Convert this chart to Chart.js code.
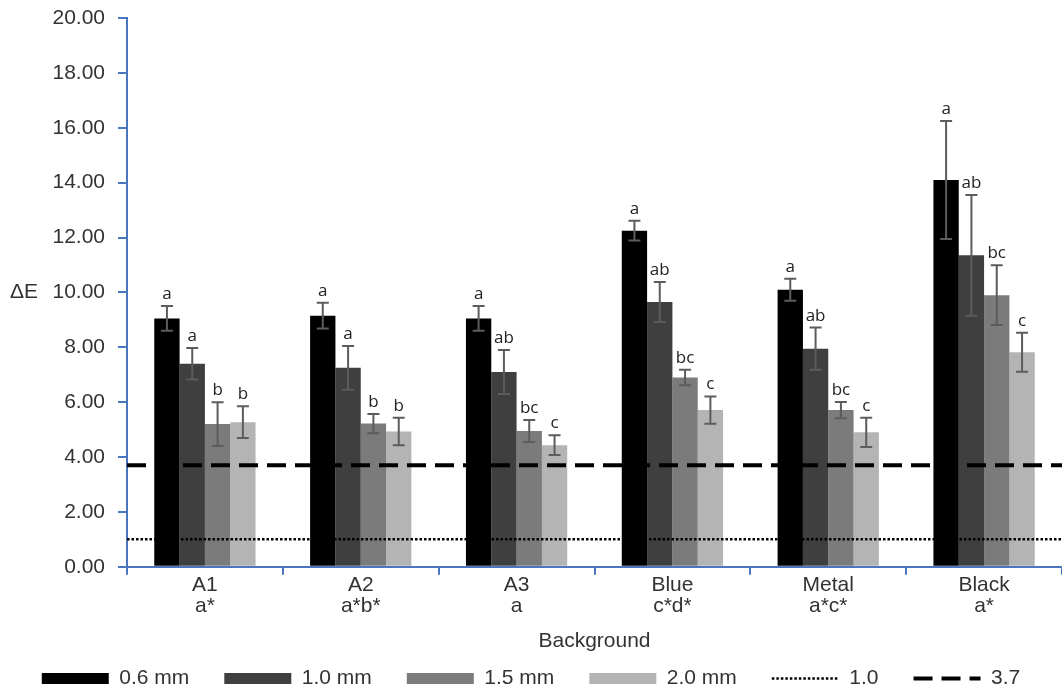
<!DOCTYPE html>
<html lang="en">
<head>
<meta charset="utf-8"/>
<title>ΔE by background</title>
<script src="https://cdn.jsdelivr.net/npm/chart.js"></script>
<style>
  html, body { margin: 0; padding: 0; background: #fff; }
  .wrap { width: 1062px; height: 693px; }
</style>
</head>
<body>
<div class="wrap"><canvas id="deChart" width="1062" height="693"></canvas></div>
<script>
  // categories (background + group letters) and thickness series
  const categories = [['A1', 'a*'], ['A2', 'a*b*'], ['A3', 'a'], ['Blue', 'c*d*'], ['Metal', 'a*c*'], ['Black', 'a*']];
  const seriesNames = ['0.6 mm', '1.0 mm', '1.5 mm', '2.0 mm'];

  const mean06 = [9.05, 9.15, 9.05, 12.25, 10.10, 14.10];
  const mean10 = [7.40, 7.25, 7.10, 9.65, 7.95, 11.35];
  const mean15 = [5.20, 5.22, 4.95, 6.90, 5.71, 9.90];
  const mean20 = [5.27, 4.93, 4.43, 5.71, 4.90, 7.82];

  const err06 = [0.45, 0.47, 0.45, 0.36, 0.40, 2.15];
  const err10 = [0.57, 0.80, 0.80, 0.73, 0.77, 2.20];
  const err15 = [0.80, 0.35, 0.40, 0.28, 0.30, 1.09];
  const err20 = [0.58, 0.50, 0.36, 0.50, 0.53, 0.71];

  const letters06 = ['a', 'a', 'a', 'a', 'a', 'a'];
  const letters10 = ['a', 'a', 'ab', 'ab', 'ab', 'ab'];
  const letters15 = ['b', 'b', 'bc', 'bc', 'bc', 'bc'];
  const letters20 = ['b', 'b', 'c', 'c', 'c', 'c'];

  const barColors = ['#000000', '#3f3f3f', '#7b7b7b', '#b4b4b4'];

  // reference thresholds (ΔE = 1.0 dotted, 3.7 dashed)
  const refNames = ['1.0', '3.7'];
  const refValues = [1.0, 3.7];

  const yTicks = { min: 0, max: 20, step: 2 };

  const seriesMeans = [mean06, mean10, mean15, mean20];
  const seriesErrors = [err06, err10, err15, err20];
  const seriesLetters = [letters06, letters10, letters15, letters20];
  const refStyles = [
    { dash: [2.5, 2], width: 2.5 },
    { dash: [19, 9], width: 4 }
  ];

  const FONT = '"Liberation Sans", Arial, sans-serif';
  const TEXT = '#333333';
  const AXIS = '#4a76c0';

  // threshold lines, then error bars + letters on top
  const overlays = {
    id: 'overlays',
    afterDatasetsDraw(chart) {
      const ctx = chart.ctx;
      const y = chart.scales.y;
      const area = chart.chartArea;
      ctx.save();
      refValues.forEach((v, k) => {
        const py = y.getPixelForValue(v);
        ctx.beginPath();
        ctx.setLineDash(refStyles[k].dash);
        ctx.lineWidth = refStyles[k].width;
        ctx.strokeStyle = '#000';
        ctx.moveTo(area.left, py);
        ctx.lineTo(area.right, py);
        ctx.stroke();
      });
      ctx.setLineDash([]);
      ctx.strokeStyle = '#5c5c5c';
      ctx.lineWidth = 2;
      ctx.fillStyle = '#222';
      ctx.font = '17px "Open Sans", sans-serif';
      ctx.textAlign = 'center';
      ctx.textBaseline = 'alphabetic';
      seriesMeans.forEach((means, i) => {
        chart.getDatasetMeta(i).data.forEach((bar, j) => {
          const top = y.getPixelForValue(means[j] + seriesErrors[i][j]);
          const bottom = y.getPixelForValue(means[j] - seriesErrors[i][j]);
          ctx.beginPath();
          ctx.moveTo(bar.x, top); ctx.lineTo(bar.x, bottom);
          ctx.moveTo(bar.x - 6, top); ctx.lineTo(bar.x + 6, top);
          ctx.moveTo(bar.x - 6, bottom); ctx.lineTo(bar.x + 6, bottom);
          ctx.stroke();
          ctx.fillText(seriesLetters[i][j], bar.x, top - 7);
        });
      });
      ctx.restore();
    }
  };

  // horizontal "ΔE" axis label
  const yLabel = {
    id: 'yLabel',
    afterDraw(chart) {
      const ctx = chart.ctx;
      const y = chart.scales.y;
      ctx.save();
      ctx.font = '21px ' + FONT;
      ctx.fillStyle = TEXT;
      ctx.textAlign = 'left';
      ctx.textBaseline = 'middle';
      ctx.fillText('ΔE', 10, (y.top + y.bottom) / 2);
      ctx.restore();
    }
  };

  const datasets = seriesNames.map((name, i) => ({
    label: name,
    data: seriesMeans[i],
    backgroundColor: barColors[i],
    borderWidth: 0,
    categoryPercentage: 0.65,
    barPercentage: 1.0
  }));

  new Chart(document.getElementById('deChart'), {
    type: 'bar',
    data: { labels: categories, datasets: datasets },
    options: {
      responsive: false,
      animation: false,
      layout: { padding: { top: 18, right: 0, bottom: -6, left: 0 } },
      scales: {
        x: {
          grid: { drawOnChartArea: false, color: AXIS, lineWidth: 2, tickLength: 8 },
          border: { color: AXIS, width: 2 },
          ticks: { color: TEXT, font: { family: FONT, size: 21, lineHeight: 1.0 }, padding: 0, maxRotation: 0 },
          title: { display: true, text: 'Background', color: TEXT, font: { family: FONT, size: 21 }, padding: { top: 12, bottom: -21 } }
        },
        y: {
          min: yTicks.min,
          max: yTicks.max,
          afterFit(scale) { scale.width = 127; scale.paddingTop = 0; },
          grid: { drawOnChartArea: false, color: AXIS, lineWidth: 2, tickLength: 9 },
          border: { color: AXIS, width: 2 },
          ticks: {
            stepSize: yTicks.step,
            color: TEXT,
            padding: 13,
            font: { family: FONT, size: 21 },
            callback: v => v.toFixed(2)
          }
        }
      },
      plugins: {
        tooltip: { enabled: false },
        legend: {
          position: 'bottom',
          labels: {
            usePointStyle: true,
            pointStyleWidth: 67,
            boxHeight: 11,
            padding: 35,
            color: TEXT,
            font: { family: FONT, size: 21 },
            generateLabels(chart) {
              const items = Chart.defaults.plugins.legend.labels.generateLabels(chart);
              items.forEach(it => { it.pointStyle = 'rect'; it.lineWidth = 0; });
              refNames.forEach((name, k) => {
                items.push({
                  text: name,
                  fillStyle: 'rgba(0,0,0,0)',
                  strokeStyle: '#000',
                  lineWidth: refStyles[k].width,
                  lineDash: refStyles[k].dash,
                  pointStyle: 'line',
                  fontColor: TEXT,
                  hidden: false
                });
              });
              return items;
            }
          }
        }
      }
    },
    plugins: [overlays, yLabel]
  });
</script>
</body>
</html>
